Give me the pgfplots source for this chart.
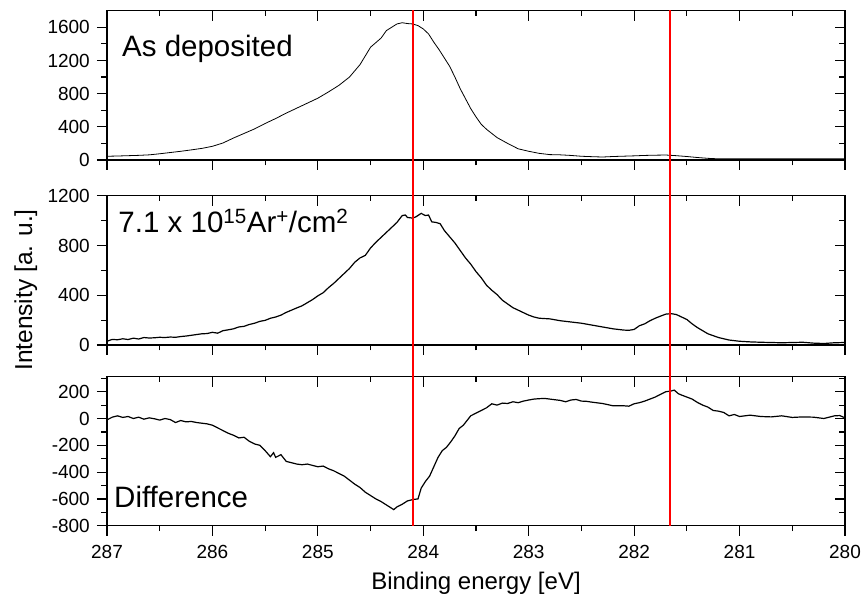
\documentclass[border=0pt]{standalone}
\usepackage{pgfplots}
\usepackage{pgfplotstable}
\pgfplotsset{compat=1.18}
\usepackage{fontspec}
\setmainfont{Liberation Sans}

\pgfplotstableread{
E I
287.00 45
286.90 48
286.80 52
286.70 56
286.60 62
286.50 75
286.40 90
286.30 105
286.20 122
286.10 140
286.00 165
285.90 205
285.80 265
285.70 320
285.60 375
285.50 440
285.40 500
285.30 565
285.20 625
285.10 685
285.00 745
284.90 820
284.80 900
284.70 1000
284.60 1150
284.50 1360
284.40 1470
284.35 1560
284.30 1600
284.25 1640
284.20 1655
284.15 1645
284.10 1640
284.05 1620
284.00 1580
283.95 1520
283.90 1420
283.85 1330
283.80 1230
283.75 1130
283.70 1000
283.65 860
283.60 740
283.55 620
283.50 520
283.45 430
283.40 370
283.35 320
283.30 270
283.20 200
283.10 135
283.00 105
282.90 80
282.80 65
282.70 62
282.60 55
282.50 45
282.40 40
282.30 36
282.20 42
282.10 46
282.00 50
281.90 55
281.80 58
281.70 60
281.60 52
281.50 42
281.40 30
281.30 20
281.20 14
281.10 14
281.00 16
280.80 14
280.60 14
280.40 16
280.20 15
280.00 16
}\tabA

\pgfplotstableread{
E I
287.00 30
286.95 45
286.90 42
286.85 50
286.80 44
286.75 55
286.70 48
286.65 60
286.60 56
286.55 58
286.50 62
286.45 60
286.40 64
286.35 62
286.30 68
286.25 72
286.20 78
286.15 84
286.10 90
286.05 92
286.00 102
285.95 95
285.90 115
285.85 122
285.80 130
285.75 145
285.70 150
285.65 165
285.60 175
285.55 190
285.50 198
285.45 215
285.40 225
285.35 240
285.30 262
285.25 280
285.20 298
285.15 315
285.10 340
285.05 365
285.00 395
284.95 420
284.90 460
284.85 495
284.80 535
284.75 575
284.70 615
284.65 665
284.60 700
284.55 720
284.50 780
284.45 825
284.40 865
284.35 905
284.30 945
284.25 985
284.20 1040
284.17 1045
284.15 1025
284.10 1020
284.07 1030
284.02 1058
283.98 1040
283.95 1045
283.92 990
283.88 985
283.84 975
283.80 920
283.75 870
283.70 820
283.65 760
283.60 700
283.55 650
283.50 590
283.45 540
283.40 480
283.35 440
283.30 405
283.25 360
283.20 330
283.15 300
283.10 280
283.05 260
283.00 240
282.95 225
282.90 215
282.80 210
282.70 195
282.60 185
282.50 175
282.40 160
282.30 145
282.20 130
282.10 120
282.05 118
282.00 125
281.95 155
281.90 170
281.85 195
281.80 215
281.75 232
281.70 248
281.65 252
281.60 245
281.55 225
281.50 205
281.45 170
281.40 140
281.35 115
281.30 90
281.25 75
281.20 60
281.10 40
281.00 30
280.90 25
280.80 22
280.70 20
280.60 18
280.50 20
280.40 22
280.30 15
280.20 12
280.10 18
280.00 20
}\tabB

\pgfplotstableread{
E I
287.00 -10
286.95 10
286.90 20
286.85 8
286.80 15
286.75 0
286.70 10
286.65 -5
286.60 5
286.55 -2
286.50 -12
286.45 0
286.40 -8
286.35 -30
286.30 -15
286.25 -25
286.20 -22
286.15 -30
286.10 -35
286.05 -40
286.00 -50
285.95 -70
285.90 -90
285.85 -110
285.80 -125
285.75 -145
285.70 -140
285.65 -170
285.60 -190
285.55 -200
285.50 -240
285.45 -285
285.42 -255
285.40 -290
285.35 -270
285.30 -320
285.25 -330
285.20 -340
285.15 -345
285.10 -340
285.05 -350
285.00 -360
284.95 -355
284.90 -375
284.85 -390
284.80 -410
284.75 -430
284.70 -460
284.65 -490
284.60 -515
284.55 -550
284.50 -575
284.45 -600
284.40 -620
284.35 -645
284.30 -670
284.28 -680
284.25 -660
284.20 -640
284.15 -615
284.10 -605
284.05 -600
284.02 -520
283.98 -470
283.94 -430
283.90 -360
283.86 -290
283.82 -240
283.78 -215
283.74 -175
283.70 -130
283.66 -75
283.62 -50
283.58 -10
283.55 20
283.50 40
283.45 60
283.40 80
283.35 110
283.30 100
283.25 115
283.20 112
283.15 125
283.10 118
283.05 130
283.00 138
282.95 145
282.90 148
282.85 150
282.80 145
282.70 135
282.65 125
282.60 138
282.55 142
282.50 130
282.45 128
282.40 122
282.30 112
282.20 95
282.10 95
282.05 92
282.00 110
281.95 118
281.90 130
281.85 145
281.80 160
281.75 180
281.70 200
281.65 205
281.62 212
281.58 185
281.55 175
281.50 160
281.45 145
281.40 120
281.35 100
281.30 85
281.25 60
281.20 55
281.15 45
281.10 20
281.05 30
281.00 15
280.90 25
280.80 15
280.70 12
280.60 20
280.50 8
280.40 12
280.30 10
280.20 0
280.10 20
280.05 22
280.00 5
}\tabC

\newcommand{\tf}{\fontsize{19}{19}\selectfont}

\pgfplotsset{
  panel/.style={
    scale only axis, width=738pt, x dir=reverse, xmin=280, xmax=287,
    axis line style={line width=1.3pt},
    major tick style={line width=1.2pt, black},
    minor tick style={line width=1.2pt, black},
    major tick length=10pt, minor tick length=5.5pt,
    xtick={280,281,282,283,284,285,286,287},
    minor xtick={280.5,281.5,282.5,283.5,284.5,285.5,286.5},
    yticklabel style={font=\tf, inner sep=0pt, anchor=east, xshift=-7pt},
    xticklabel style={font=\tf, inner sep=0pt, anchor=north, yshift=-9pt},
  },
  front/.style={panel, xtick pos=left, ytick pos=left, tick align=outside},
  back/.style={panel, xtick pos=right, ytick pos=right, tick align=inside,
    xticklabels={}, yticklabels={}},
  pA/.style={at={(107pt,445pt)}, anchor=south west, height=149.3pt,
    ymin=0, ymax=1800, ytick={0,400,800,1200,1600}, minor ytick={200,600,1000,1400}},
  pB/.style={at={(107pt,260pt)}, anchor=south west, height=149.3pt,
    ymin=0, ymax=1200, ytick={0,400,800,1200}, minor ytick={200,600,1000}},
  pC/.style={at={(107pt,79.3pt)}, anchor=south west, height=149pt,
    ymin=-800, ymax=312, ytick={-800,-600,-400,-200,0,200},
    minor ytick={-700,-500,-300,-100,100,300}},
}

\begin{document}
\begin{tikzpicture}
\useasboundingbox (0,0) rectangle (865pt,605pt);

% Panel 1
\begin{axis}[back, pA]
\end{axis}
\begin{axis}[front, pA, xticklabels={},
  yticklabels={{\tf 0},{\tf 400},{\tf 800},{\tf 1200},{\tf 1600}}]
\addplot[black, line width=0.8pt] table[x=E, y=I] {\tabA};
\node[anchor=base west, inner sep=0pt, font=\fontsize{29.5}{30}\selectfont]
  at (axis description cs:0.0203,0.690) {As deposited};
\end{axis}

% Panel 2
\begin{axis}[back, pB]
\end{axis}
\begin{axis}[front, pB, xticklabels={},
  yticklabels={{\tf 0},{\tf 400},{\tf 800},{\tf 1200}}]
\addplot[black, line width=1.2pt] table[x=E, y=I] {\tabB};
\node[anchor=base west, inner sep=0pt, font=\fontsize{29.5}{30}\selectfont]
  at (axis description cs:0.0153,0.752) {7.1 x 10\textsuperscript{15}Ar\textsuperscript{+}/cm\textsuperscript{2}};
\end{axis}

% Panel 3
\begin{axis}[back, pC]
\end{axis}
\begin{axis}[front, pC,
  xticklabels={{\tf 280},{\tf 281},{\tf 282},{\tf 283},{\tf 284},{\tf 285},{\tf 286},{\tf 287}},
  yticklabels={{\tf -800},{\tf -600},{\tf -400},{\tf -200},{\tf 0},{\tf 200}}]
\addplot[black, line width=1.2pt] table[x=E, y=I] {\tabC};
\node[anchor=base west, inner sep=0pt, font=\fontsize{29.5}{30}\selectfont]
  at (axis description cs:0.0095,0.119) {Difference};
\end{axis}

% Red reference lines across all panels
\begin{axis}[at={(107pt,79.3pt)}, anchor=south west, scale only axis,
  width=738pt, height=516pt, x dir=reverse, xmin=280, xmax=287,
  ymin=0, ymax=1, hide axis, clip=false]
\addplot[red, line width=2.4pt] coordinates {(284.1,0) (284.1,1)};
\addplot[red, line width=2.4pt] coordinates {(281.66,0) (281.66,1)};
\end{axis}

\node[anchor=base, inner sep=0pt, font=\fontsize{24}{24}\selectfont]
  at (476pt,15pt) {Binding energy [eV]};
\node[anchor=base, rotate=90, inner sep=0pt, font=\fontsize{24.5}{25}\selectfont]
  at (32pt,315pt) {Intensity [a. u.]};
\end{tikzpicture}
\end{document}
